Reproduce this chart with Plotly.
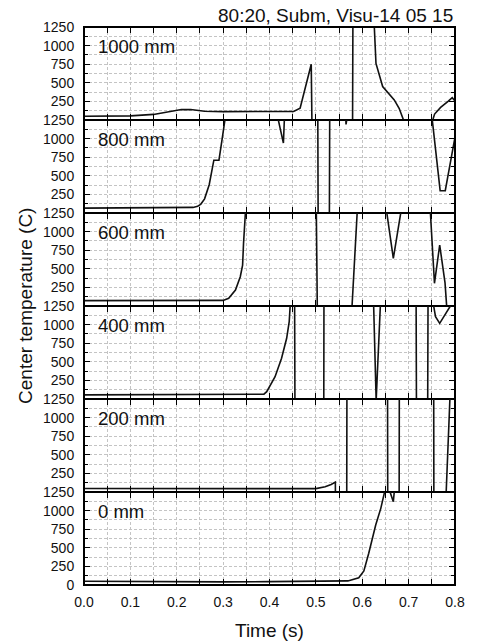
import plotly.graph_objects as go
from plotly.subplots import make_subplots

# ---------------- data (time in s, center temperature in C) ----------------
# values outside 0..1250 are clipped off-panel in the original chart (estimated)
t_1000 = [0.00, 0.10, 0.15, 0.18, 0.21, 0.23, 0.26, 0.30, 0.44, 0.452, 0.466, 0.490, 0.492,
          0.579, 0.580, 0.624, 0.626, 0.6296, 0.644, 0.669, 0.6795, 0.690, 0.692,
          0.752, 0.753, 0.756, 0.769, 0.785, 0.794, 0.800]
v_1000 = [50, 55, 75, 110, 140, 140, 118, 112, 112, 115, 160, 750, -300,
          -300, 1600, 1600, 1250, 760, 450, 270, 157, 0, -50,
          -50, 20, 80, 170, 250, 300, 255]

t_800 = [0.00, 0.10, 0.20, 0.235, 0.245, 0.252, 0.26, 0.27, 0.28, 0.291, 0.298, 0.305, 0.31,
         0.418, 0.419, 0.430, 0.432, 0.433,
         0.504, 0.505, 0.529, 0.530,
         0.563, 0.5635, 0.565, 0.5665, 0.567,
         0.750, 0.751, 0.768, 0.779, 0.800]
v_800 = [65, 65, 68, 75, 90, 120, 190, 380, 710, 710, 1000, 1300, 1600,
         1600, 1250, 940, 1250, 1600,
         1600, -300, -300, 1600,
         1600, 1250, 1190, 1250, 1600,
         1600, 1250, 300, 300, 1020]

t_600 = [0.00, 0.29, 0.30, 0.312, 0.3266, 0.337, 0.342, 0.344, 0.348, 0.349,
         0.500, 0.501, 0.503, 0.5035,
         0.5775, 0.578, 0.589, 0.5895,
         0.652, 0.653, 0.667, 0.683, 0.684,
         0.746, 0.747, 0.7557, 0.767, 0.7785, 0.782, 0.783, 0.800]
v_600 = [72, 72, 75, 103, 215, 394, 550, 843, 1250, 1600,
         1600, 1250, 0, -300,
         -300, 0, 1250, 1600,
         1600, 1250, 640, 1250, 1600,
         1600, 1250, 305, 820, 310, 0, -300, -300]

t_400 = [0.00, 0.38, 0.388, 0.394, 0.412, 0.426, 0.437, 0.4425, 0.446, 0.447, 0.448,
         0.454, 0.455, 0.517, 0.5175,
         0.624, 0.6246, 0.630, 0.639, 0.6395,
         0.716, 0.717, 0.741, 0.742,
         0.753, 0.754, 0.758, 0.767, 0.786, 0.790, 0.800]
v_400 = [55, 55, 65, 98, 300, 547, 816, 1040, 1220, 1250, 1600,
         1600, -300, -300, 1600,
         1600, 1250, -20, 1250, 1600,
         1600, -300, -300, 1600,
         1600, 1250, 1106, 1017, 1200, 1250, 1300]

t_200 = [0.00, 0.50, 0.52, 0.533, 0.542, 0.5425,
         0.5665, 0.567, 0.6545, 0.655, 0.6795, 0.680,
         0.754, 0.7545, 0.780, 0.781, 0.789, 0.790, 0.800]
v_200 = [48, 45, 70, 100, 132, -300,
         -300, 1600, 1600, -300, -300, 1600,
         1600, -300, -300, 0, 1250, 1600, 1600]

t_0 = [0.00, 0.10, 0.20, 0.30, 0.40, 0.50, 0.555, 0.569, 0.5925, 0.6035, 0.614, 0.629, 0.640,
       0.647, 0.650, 0.651, 0.659, 0.660, 0.667, 0.669, 0.670, 0.800]
v_0 = [50, 45, 42, 42, 45, 45, 45, 55, 98, 190, 426, 806, 1030,
       1210, 1300, 1600, 1600, 1250, 1120, 1250, 1600, 1600]

panel_labels = ["1000 mm", "800 mm", "600 mm", "400 mm", "200 mm", "0 mm"]
series_t = [t_1000, t_800, t_600, t_400, t_200, t_0]
series_v = [v_1000, v_800, v_600, v_400, v_200, v_0]

title_text = "80:20, Subm, Visu-14 05 15"
x_title = "Time (s)"
y_title = "Center temperature (C)"

y_major = [0, 250, 500, 750, 1000, 1250]
y_minor = [125, 375, 625, 875, 1125]

# ---------------- figure ----------------
FONT = "Liberation Sans, Arial, Helvetica, sans-serif"
W, H = 477, 643
ML, MR, MT, MB = 84, 19, 27, 58
PH = H - MT - MB

fig = make_subplots(rows=6, cols=1, vertical_spacing=0)

grid_col = "#c4c4c4"
AX_LW = 1
for i in range(6):
    r = i + 1
    fig.add_trace(go.Scatter(x=series_t[i], y=series_v[i], mode="lines",
                             line=dict(color="#111111", width=1.6),
                             showlegend=False, hoverinfo="skip"), row=r, col=1)
    if r == 6:
        ytext = [str(v) for v in y_major]
    else:
        ytext = [""] + [str(v) for v in y_major[1:]]
    fig.update_yaxes(range=[0, 1250], tickmode="array", tickvals=y_major, ticktext=ytext,
                     ticks="inside", ticklen=6, tickwidth=1.3, tickcolor="black",
                     showline=True, linecolor="black", linewidth=AX_LW, mirror="allticks",
                     showgrid=True, gridcolor=grid_col, gridwidth=1, griddash="3px,2px",
                     zeroline=False, ticklabelstandoff=6,
                     tickfont=dict(family=FONT, size=14, color="#111111"),
                     minor=dict(tickmode="array", tickvals=y_minor, ticks="inside", ticklen=4,
                                tickwidth=1.3, tickcolor="black", showgrid=True,
                                gridcolor=grid_col, gridwidth=1, griddash="3px,2px"),
                     row=r, col=1)
    fig.update_xaxes(range=[0, 0.8], tickmode="linear", tick0=0, dtick=0.1, tickformat=".1f",
                     ticks="inside", ticklen=6, tickwidth=1.3, tickcolor="black",
                     showline=True, linecolor="black", linewidth=AX_LW, mirror="allticks",
                     showgrid=True, gridcolor=grid_col, gridwidth=1, griddash="3px,2px",
                     zeroline=False, showticklabels=(r == 6), ticklabelstandoff=4,
                     tickfont=dict(family=FONT, size=14, color="#111111"),
                     minor=dict(dtick=0.05, ticks="inside", ticklen=6, tickwidth=1.3,
                                tickcolor="black", showgrid=True, gridcolor=grid_col,
                                gridwidth=1, griddash="3px,2px"),
                     row=r, col=1)
    xref = "x domain" if r == 1 else f"x{r} domain"
    yref = "y domain" if r == 1 else f"y{r} domain"
    fig.add_annotation(text=panel_labels[i], xref=xref, yref=yref, x=0.033, y=1 - 19 / 93,
                       xanchor="left", yanchor="middle", showarrow=False,
                       font=dict(family=FONT, size=18.5, color="#111111"))

# outer frame
fig.add_shape(type="rect", xref="paper", yref="paper", x0=0, x1=1, y0=0, y1=1,
              line=dict(color="black", width=2), fillcolor="rgba(0,0,0,0)", layer="above")

fig.add_annotation(text=title_text, xref="paper", yref="paper", x=1.0, y=1 + 12 / PH,
                   xanchor="right", yanchor="middle", showarrow=False,
                   font=dict(family=FONT, size=19, color="#111111"))
fig.add_annotation(text=x_title, xref="paper", yref="paper", x=0.5, y=-45 / PH,
                   xanchor="center", yanchor="middle", showarrow=False,
                   font=dict(family=FONT, size=19, color="#111111"))
fig.add_annotation(text=y_title, xref="paper", yref="paper", x=(24.5 - ML) / (W - ML - MR),
                   y=0.5, xanchor="center", yanchor="middle", textangle=-90, showarrow=False,
                   font=dict(family=FONT, size=19, color="#111111"))

fig.update_layout(width=W, height=H, margin=dict(l=ML, r=MR, t=MT, b=MB),
                  paper_bgcolor="white", plot_bgcolor="white",
                  font=dict(family=FONT, color="#111111"))

fig.write_html("out.html", config={"displayModeBar": False},
               post_script="document.body.style.margin='0';")
